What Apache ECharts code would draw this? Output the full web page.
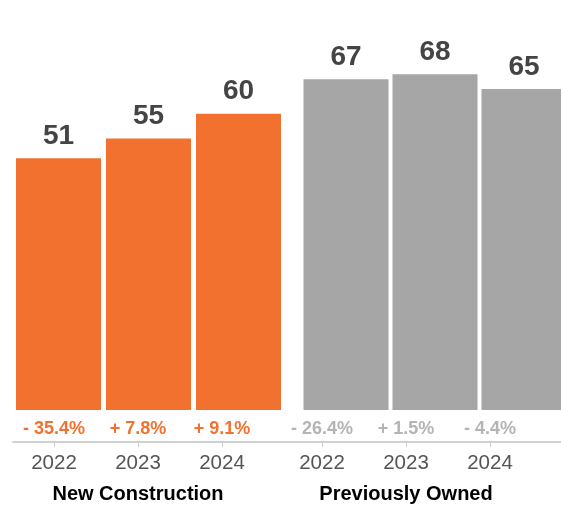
<!DOCTYPE html>
<html><head><meta charset="utf-8">
<script src="https://cdn.jsdelivr.net/npm/echarts@6/dist/echarts.min.js"></script>
<style>html,body{margin:0;padding:0;background:#fff}#c{width:561px;height:508px}</style>
</head><body><div id="c"></div>
<script>
const years = ['2022', '2023', '2024'];
const newConstruction = [51, 55, 60];
const previouslyOwned = [67, 68, 65];
const newPct = ['- 35.4%', '+ 7.8%', '+ 9.1%'];
const prevPct = ['- 26.4%', '+ 1.5%', '- 4.4%'];
const groupNames = ['New Construction', 'Previously Owned'];

const FONT = "'Liberation Sans', Arial, Helvetica, sans-serif";
const ORANGE = '#F3712E';
const GRAY = '#A6A6A6';
const PCT_GRAY = '#B4B4B4';

const chart = echarts.init(document.getElementById('c'));
const barLabel = {show: true, position: 'top', distance: 8, fontSize: 28, fontWeight: 'bold', color: '#444', fontFamily: FONT};
const hiddenY = (g) => ({type: 'value', gridIndex: g, min: 0, max: 80, show: false});
function yearAxis(g, name) {
  return {type: 'category', gridIndex: g, data: years, position: 'bottom', boundaryGap: true,
    axisLine: {show: false},
    axisTick: {show: true, alignWithLabel: true, length: 5, lineStyle: {color: '#cfcfcf', width: 1}},
    axisLabel: {fontSize: 20.5, color: '#555', margin: 11, fontFamily: FONT},
    name: name, nameLocation: 'middle', nameGap: 42,
    nameTextStyle: {fontSize: 20, fontWeight: 'bold', color: '#000', fontFamily: FONT}};
}
function pctAxis(g, data, color) {
  return {type: 'category', gridIndex: g, data: data, position: 'bottom', boundaryGap: true,
    axisLine: {show: false}, axisTick: {show: false},
    axisLabel: {inside: true, margin: 4, fontSize: 18, fontWeight: 'bold', color: color, fontFamily: FONT}};
}
const g = (o) => Object.assign({outerBoundsMode: 'none', containLabel: false}, o);
chart.setOption({
  animation: false,
  grid: [
    g({left: 13.5, width: 270, top: 15, height: 395}),
    g({left: 301.5, width: 267, top: 15, height: 395}),
    g({left: 12, width: 252, top: 420, height: 22}),
    g({left: 280, width: 252, top: 420, height: 22}),
    g({left: 13, right: 0, top: 420, height: 22})
  ],
  xAxis: [
    {type: 'category', gridIndex: 0, data: years, show: false},
    {type: 'category', gridIndex: 1, data: years, show: false},
    yearAxis(2, groupNames[0]),
    yearAxis(3, groupNames[1]),
    pctAxis(2, newPct, ORANGE),
    pctAxis(3, prevPct, PCT_GRAY),
    {type: 'category', gridIndex: 4, data: [''], axisLine: {show: true, lineStyle: {color: '#d0d0d0', width: 2}},
      axisTick: {show: false}, axisLabel: {show: false}}
  ],
  yAxis: [hiddenY(0), hiddenY(1), hiddenY(2), hiddenY(3), hiddenY(4)],
  series: [
    {type: 'bar', xAxisIndex: 0, yAxisIndex: 0, data: newConstruction, barWidth: 85,
      itemStyle: {color: ORANGE}, label: barLabel},
    {type: 'bar', xAxisIndex: 1, yAxisIndex: 1, data: previouslyOwned, barWidth: 85,
      itemStyle: {color: GRAY}, label: barLabel}
  ]
});
</script></body></html>
